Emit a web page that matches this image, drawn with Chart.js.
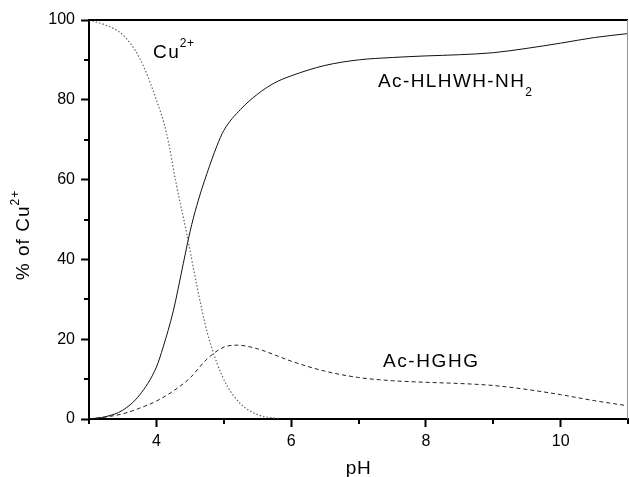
<!DOCTYPE html>
<html>
<head>
<meta charset="utf-8">
<script src="https://cdn.jsdelivr.net/npm/chart.js@4.4.1/dist/chart.umd.min.js"></script>
<style>
html,body{margin:0;padding:0;background:#fff;}
#wrap{width:629px;height:477px;}
</style>
</head>
<body>
<div id="wrap"><canvas id="c" width="629" height="477"></canvas></div>
<script>
// ---- data ----
const cuX    = [3.0, 3.25, 3.5, 3.75, 4.0, 4.15, 4.3, 4.45, 4.6, 4.75, 4.9, 5.05, 5.25, 5.5, 5.8];
const cuY    = [100, 98.7, 96.3, 90.5, 80, 71.7, 58.5, 46.5, 33.5, 22, 14, 8.3, 3.8, 1.1, 0.1];
const hlhX   = [3, 3.25, 3.5, 3.75, 4, 4.1, 4.25, 4.4, 4.5, 4.6, 4.75, 4.9, 5, 5.25, 5.5, 5.75, 6, 6.5, 7, 7.5, 8, 8.5, 9, 9.5, 10, 10.5, 11];
const hlhY   = [0, 0.6, 2.2, 6, 13, 18, 27, 39, 47, 53.5, 61.5, 68.5, 72.3, 77.6, 81.4, 84.2, 86, 88.6, 90, 90.6, 91, 91.3, 91.8, 92.9, 94.2, 95.6, 96.6];
const hghX   = [3, 3.25, 3.5, 3.75, 4, 4.25, 4.5, 4.75, 5, 5.2, 5.5, 5.75, 6, 6.5, 7, 7.5, 8, 8.5, 9, 9.5, 10, 10.5, 11];
const hghY   = [0, 0.5, 1.3, 2.7, 4.5, 7, 10.3, 15, 18, 18.5, 17.6, 16.1, 14.5, 12, 10.4, 9.6, 9.2, 8.9, 8.4, 7.4, 6.1, 4.6, 3.3];
const xMajor = [4, 6, 8, 10];
const xMinor = [3, 5, 7, 9, 11];
const yMajor = [0, 20, 40, 60, 80, 100];
const yMinor = [10, 30, 50, 70, 90];

const pts = (xs, ys) => xs.map((x, i) => ({x: x, y: ys[i]}));

const FONT = '"Liberation Sans", Arial, Helvetica, sans-serif';

const decor = {
  id: 'decor',
  afterDraw(chart) {
    const ctx = chart.ctx;
    const a = chart.chartArea;
    const xs = chart.scales.x, ys = chart.scales.y;
    ctx.save();
    // top frame line
    ctx.strokeStyle = '#000';
    ctx.lineWidth = 2;
    ctx.beginPath(); ctx.moveTo(a.left - 1, a.top); ctx.lineTo(a.right, a.top); ctx.stroke();
    // right frame line
    ctx.strokeStyle = '#999';
    ctx.lineWidth = 1;
    ctx.beginPath(); ctx.moveTo(a.right - 0.5, a.top); ctx.lineTo(a.right - 0.5, a.bottom); ctx.stroke();
    // minor ticks
    ctx.strokeStyle = '#000';
    ctx.lineWidth = 2;
    yMinor.forEach(v => {
      const py = Math.round(ys.getPixelForValue(v));
      ctx.beginPath(); ctx.moveTo(a.left - 5, py); ctx.lineTo(a.left, py); ctx.stroke();
    });
    xMinor.forEach(v => {
      const px = Math.round(xs.getPixelForValue(v));
      ctx.beginPath(); ctx.moveTo(px, a.bottom); ctx.lineTo(px, a.bottom + 5); ctx.stroke();
    });
    // text labels
    ctx.fillStyle = '#000';
    ctx.textBaseline = 'alphabetic';
    ctx.textAlign = 'left';
    // Cu2+
    ctx.letterSpacing = '1.5px';
    ctx.font = '19px ' + FONT;
    ctx.fillText('Cu', 153, 58);
    let w = ctx.measureText('Cu').width;
    ctx.font = '12px ' + FONT;
    ctx.letterSpacing = '0.5px';
    ctx.fillText('2+', 153 + w - 0.5, 47);
    // Ac-HLHWH-NH2
    ctx.letterSpacing = '1.4px';
    ctx.font = '19px ' + FONT;
    ctx.fillText('Ac-HLHWH-NH', 378, 87);
    w = ctx.measureText('Ac-HLHWH-NH').width;
    ctx.font = '12px ' + FONT;
    ctx.letterSpacing = '0px';
    ctx.fillText('2', 378 + w, 96);
    // Ac-HGHG
    ctx.letterSpacing = '1.6px';
    ctx.font = '19px ' + FONT;
    ctx.fillText('Ac-HGHG', 383, 367);
    // axis titles
    ctx.letterSpacing = '0.5px';
    ctx.font = '19px ' + FONT;
    ctx.textAlign = 'center';
    ctx.fillText('pH', (a.left + a.right) / 2, 474);
    // y title rotated
    ctx.save();
    ctx.translate(29, 0);
    ctx.rotate(-Math.PI / 2);
    ctx.textAlign = 'left';
    ctx.letterSpacing = '1px';
    ctx.font = '19px ' + FONT;
    const main = '% of Cu';
    const mw = ctx.measureText(main).width;
    ctx.font = '12px ' + FONT;
    const sw = ctx.measureText('2+').width;
    const total = mw + sw;
    const cy = 235;
    const start = -(cy + total / 2);
    ctx.font = '19px ' + FONT;
    ctx.fillText(main, start, 0);
    ctx.font = '12px ' + FONT;
    ctx.fillText('2+', start + mw, -10);
    ctx.restore();
    ctx.restore();
  }
};

new Chart(document.getElementById('c'), {
  type: 'scatter',
  data: {
    datasets: [
      { label: 'Cu2+', data: pts(cuX, cuY), showLine: true, borderColor: '#666', borderWidth: 1.2,
        borderDash: [1.5, 2], pointRadius: 0, cubicInterpolationMode: 'monotone', fill: false },
      { label: 'Ac-HLHWH-NH2', data: pts(hlhX, hlhY), showLine: true, borderColor: '#111', borderWidth: 1,
        pointRadius: 0, cubicInterpolationMode: 'monotone', fill: false },
      { label: 'Ac-HGHG', data: pts(hghX, hghY), showLine: true, borderColor: '#222', borderWidth: 1,
        borderDash: [4, 3], pointRadius: 0, cubicInterpolationMode: 'monotone', fill: false }
    ]
  },
  options: {
    responsive: false,
    animation: false,
    devicePixelRatio: 1,
    layout: { padding: { left: 0, right: 1, top: 20, bottom: 0 } },
    plugins: { legend: { display: false }, tooltip: { enabled: false } },
    scales: {
      x: {
        type: 'linear', min: 3, max: 11,
        afterFit(s) { s.height = 58; },
        afterBuildTicks(s) { s.ticks = xMajor.map(v => ({value: v})); },
        grid: { drawOnChartArea: false, drawTicks: true, tickLength: 8, tickWidth: 2, tickColor: '#000' },
        border: { display: true, color: '#000', width: 2 },
        ticks: { autoSkip: false, maxRotation: 0, padding: 5, color: '#000',
                 font: { family: FONT, size: 16 } }
      },
      y: {
        type: 'linear', min: 0, max: 100,
        afterFit(s) { s.width = 89; },
        afterBuildTicks(s) { s.ticks = yMajor.map(v => ({value: v})); },
        grid: { drawOnChartArea: false, drawTicks: true, tickLength: 8, tickWidth: 2, tickColor: '#000' },
        border: { display: true, color: '#000', width: 2 },
        ticks: { autoSkip: false, padding: 6, color: '#000',
                 font: { family: FONT, size: 16 } }
      }
    }
  },
  plugins: [decor]
});
</script>
</body>
</html>
